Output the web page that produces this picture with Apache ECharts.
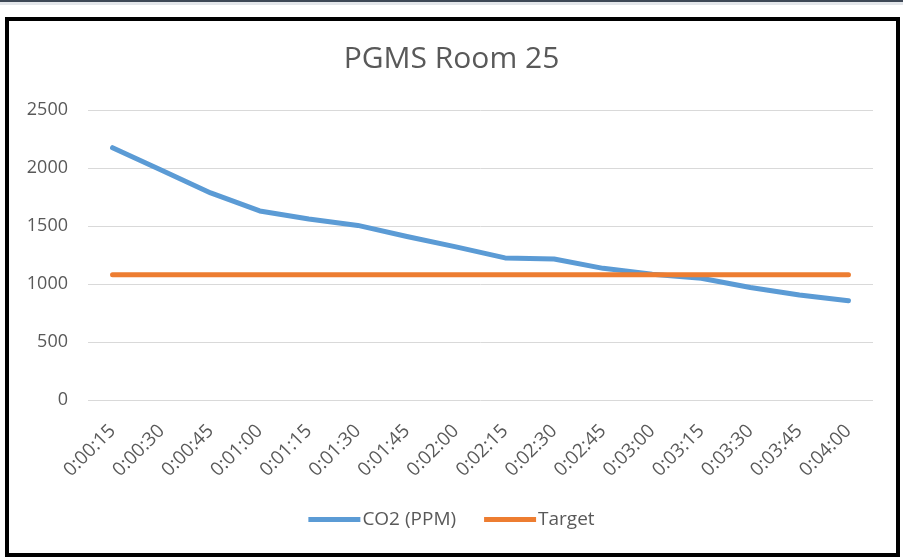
<!DOCTYPE html>
<html>
<head>
<meta charset="utf-8">
<title>PGMS Room 25</title>
<script src="https://cdn.jsdelivr.net/npm/echarts@6/dist/echarts.min.js"></script>
<style type="text/css">
body{ margin:0; background:#fff; }
#topbar{ position:absolute; left:0; top:0; width:903px; height:2px; background:#3e4856; }
#topbar2{ position:absolute; left:0; top:2px; width:903px; height:3px; background:#e3e6ea; }
#tx{ position:absolute; left:0; top:0; width:903px; height:557px; }
#frame{ position:absolute; left:5px; top:17px; width:895px; height:540px; box-sizing:border-box; border:4px solid #000; pointer-events:none; }
</style>
</head>
<body>
<div id="topbar"></div>
<div id="topbar2"></div>
<div id="tx"></div>
<div id="frame"></div>
<script>
// data
var times = ['0:00:15', '0:00:30', '0:00:45', '0:01:00', '0:01:15', '0:01:30', '0:01:45', '0:02:00',
             '0:02:15', '0:02:30', '0:02:45', '0:03:00', '0:03:15', '0:03:30', '0:03:45', '0:04:00'];
var co2 = [2175, 1980, 1785, 1630, 1560, 1505, 1410, 1320, 1225, 1215, 1135, 1085, 1050, 970, 905, 855];
var target = [1080, 1080, 1080, 1080, 1080, 1080, 1080, 1080, 1080, 1080, 1080, 1080, 1080, 1080, 1080, 1080];

var font = 'Open Sans';
var myChart = echarts.init(document.getElementById('tx'));
var option = {
    backgroundColor: 'transparent',
    animation: false,
    title: {
        text: 'PGMS Room 25',
        left: 'center',
        top: 39,
        textStyle: { fontFamily: font, fontSize: 30, fontWeight: 'normal', color: '#595959' }
    },
    legend: {
        top: 505,
        left: 'center',
        icon: 'rect',
        itemWidth: 52,
        itemHeight: 5,
        itemGap: 28,
        textStyle: { fontFamily: font, fontSize: 19, color: '#595959', padding: [0, 0, 0, -3] },
        data: ['CO2 (PPM)', 'Target']
    },
    grid: { left: 88, right: 30, top: 110, bottom: 157 },
    xAxis: {
        type: 'category',
        data: times,
        boundaryGap: true,
        axisLine: { show: false },
        axisTick: { show: false },
        axisLabel: { rotate: 45, margin: 28, fontFamily: font, fontSize: 19, color: '#595959' }
    },
    yAxis: {
        type: 'value',
        min: 0,
        max: 2500,
        interval: 500,
        axisLine: { show: false },
        axisTick: { show: false },
        axisLabel: {
            margin: 20, fontFamily: font, fontSize: 18, color: '#595959',
            formatter: function (v) { return String(v); }
        },
        splitLine: { lineStyle: { color: '#d9d9d9', width: 1 } }
    },
    series: [{
        name: 'CO2 (PPM)',
        type: 'line',
        data: co2,
        symbol: 'none',
        itemStyle: { color: '#5b9bd5' },
        lineStyle: { color: '#5b9bd5', width: 5, cap: 'round', join: 'round' }
    }, {
        name: 'Target',
        type: 'line',
        data: target,
        symbol: 'none',
        itemStyle: { color: '#ed7d31' },
        lineStyle: { color: '#ed7d31', width: 5, cap: 'round' }
    }]
};
myChart.setOption(option);
</script>
</body>
</html>
